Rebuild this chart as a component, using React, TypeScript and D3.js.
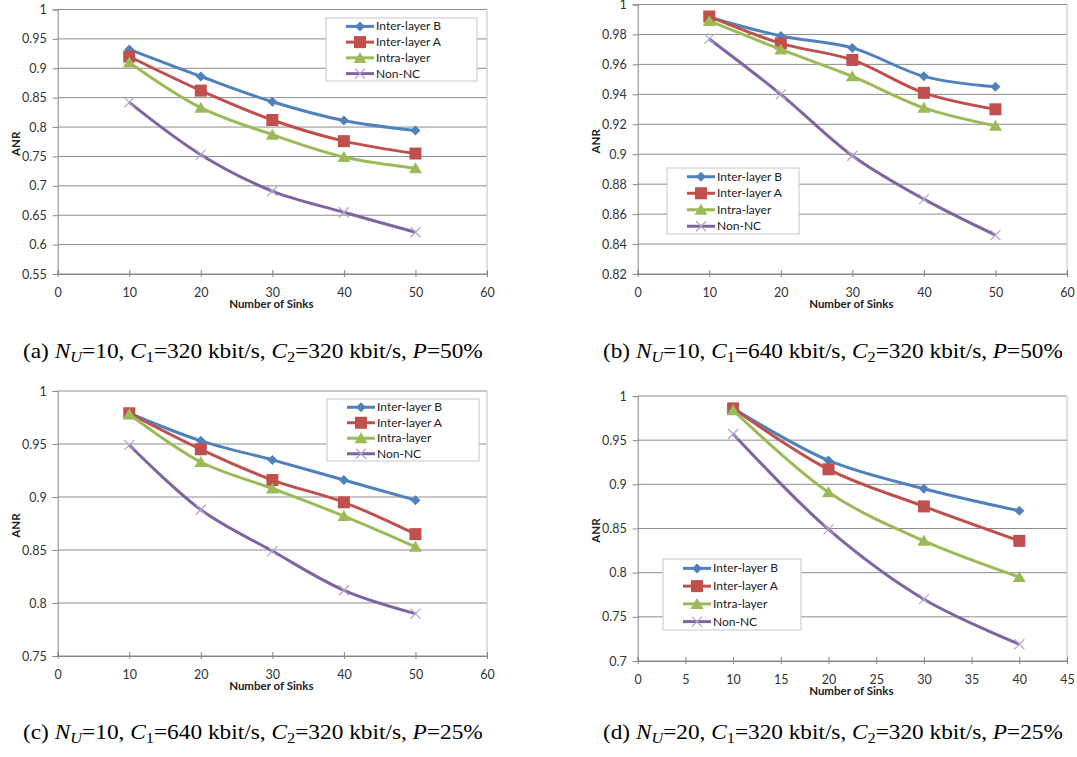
import React, { useEffect, useRef } from "react"
import * as d3 from "d3"

// series names and colours (Excel 2007 palette)
const seriesNames = ["Inter-layer B", "Inter-layer A", "Intra-layer", "Non-NC"]
const seriesColors = ["#4F81BD", "#C0504D", "#9BBB59", "#8064A2"]
const markerKinds = ["diamond", "square", "triangle", "cross"]

// x values
const sinks50 = [10, 20, 30, 40, 50]
const sinks40 = [10, 20, 30, 40]

// panel (a)
const aInterB = [0.932, 0.886, 0.843, 0.811, 0.794]
const aInterA = [0.920, 0.862, 0.812, 0.776, 0.755]
const aIntra = [0.910, 0.833, 0.787, 0.749, 0.730]
const aNonNC = [0.842, 0.753, 0.691, 0.655, 0.621]

// panel (b)
const bInterB = [0.9915, 0.979, 0.971, 0.952, 0.945]
const bInterA = [0.992, 0.974, 0.963, 0.941, 0.930]
const bIntra = [0.989, 0.970, 0.952, 0.931, 0.919]
const bNonNC = [0.977, 0.940, 0.899, 0.870, 0.846]

// panel (c)
const cInterB = [0.979, 0.953, 0.935, 0.916, 0.897]
const cInterA = [0.979, 0.945, 0.916, 0.895, 0.865]
const cIntra = [0.978, 0.933, 0.908, 0.882, 0.853]
const cNonNC = [0.949, 0.888, 0.849, 0.812, 0.790]

// panel (d)
const dInterB = [0.986, 0.927, 0.895, 0.870]
const dInterA = [0.986, 0.917, 0.875, 0.836]
const dIntra = [0.984, 0.891, 0.836, 0.795]
const dNonNC = [0.957, 0.849, 0.770, 0.719]

// tick labels
const xTicks60 = [0, 10, 20, 30, 40, 50, 60]
const xTicks45 = [0, 5, 10, 15, 20, 25, 30, 35, 40, 45]
const yTicksA = [0.55, 0.6, 0.65, 0.7, 0.75, 0.8, 0.85, 0.9, 0.95, 1]
const yTicksB = [0.82, 0.84, 0.86, 0.88, 0.9, 0.92, 0.94, 0.96, 0.98, 1]
const yTicksC = [0.75, 0.8, 0.85, 0.9, 0.95, 1]
const yTicksD = [0.7, 0.75, 0.8, 0.85, 0.9, 0.95, 1]

const captions = [
  { tag: "(a)", nu: "10", c1: "320", c2: "320", p: "50%" },
  { tag: "(b)", nu: "10", c1: "640", c2: "320", p: "50%" },
  { tag: "(c)", nu: "10", c1: "640", c2: "320", p: "25%" },
  { tag: "(d)", nu: "20", c1: "320", c2: "320", p: "25%" },
]

const panels = [
  { xs: sinks50, series: [aInterB, aInterA, aIntra, aNonNC], xTicks: xTicks60, yTicks: yTicksA,
    box: [57.7, 487, 9.5, 274], legend: [326, 18, 151, 63] },
  { xs: sinks50, series: [bInterB, bInterA, bIntra, bNonNC], xTicks: xTicks60, yTicks: yTicksB,
    box: [637.7, 1067, 4.5, 274], legend: [667, 168, 132, 66] },
  { xs: sinks50, series: [cInterB, cInterA, cIntra, cNonNC], xTicks: xTicks60, yTicks: yTicksC,
    box: [57.7, 487, 391, 656], legend: [327, 399, 152, 62] },
  { xs: sinks40, series: [dInterB, dInterA, dIntra, dNonNC], xTicks: xTicks45, yTicks: yTicksD,
    box: [637.7, 1067, 396, 661], legend: [663, 559, 138, 71] },
]

// caption left x, baseline y, target width
const captionPos = [[23, 358, 460], [603, 358, 460], [23, 739, 460], [603, 739, 460]]

const tickFont = "Lato, 'Open Sans', sans-serif"

function drawMarker(g, kind, x, y, color) {
  if (kind === "diamond") {
    g.append("path").attr("d", `M${x},${y - 5}L${x + 5},${y}L${x},${y + 5}L${x - 5},${y}Z`).attr("fill", color)
  } else if (kind === "square") {
    g.append("rect").attr("x", x - 6).attr("y", y - 6).attr("width", 12).attr("height", 12).attr("fill", color)
  } else if (kind === "triangle") {
    g.append("path").attr("d", `M${x},${y - 6}L${x + 6.5},${y + 5}L${x - 6.5},${y + 5}Z`).attr("fill", color)
  } else {
    g.append("path").attr("d", `M${x - 5},${y - 5}L${x + 5},${y + 5}M${x - 5},${y + 5}L${x + 5},${y - 5}`)
      .attr("stroke", "#B3A2C7").attr("stroke-width", 1.2).attr("fill", "none")
  }
}

function App() {
  const ref = useRef(null)

  useEffect(() => {
    const svg = d3.select(ref.current)
    svg.selectAll("*").remove()

    panels.forEach((p) => {
      const [x0, x1, y0, y1] = p.box
      const x = d3.scaleLinear().domain([p.xTicks[0], p.xTicks[p.xTicks.length - 1]]).range([x0, x1])
      const y = d3.scaleLinear().domain([p.yTicks[0], p.yTicks[p.yTicks.length - 1]]).range([y1, y0])
      const g = svg.append("g")

      // grid lines
      g.selectAll(".grid").data(p.yTicks).enter().append("line")
        .attr("x1", x0).attr("x2", x1).attr("y1", d => y(d)).attr("y2", d => y(d))
        .attr("stroke", "#8C8C8C").attr("stroke-width", 1)
      // right border
      g.append("line").attr("x1", x1).attr("x2", x1).attr("y1", y0).attr("y2", y1)
        .attr("stroke", "#BFBFBF").attr("stroke-width", 1)

      // axes
      const yAxis = g.append("g").attr("transform", `translate(${x0},0)`)
        .call(d3.axisLeft(y).tickValues(p.yTicks).tickSize(5).tickFormat(d3.format("")))
      const xAxis = g.append("g").attr("transform", `translate(0,${y1})`)
        .call(d3.axisBottom(x).tickValues(p.xTicks).tickSize(-4).tickPadding(14).tickFormat(d3.format("")))
      ;[yAxis, xAxis].forEach(a => {
        a.select(".domain").attr("stroke", "#868686")
        a.selectAll("line").attr("stroke", "#868686")
        a.selectAll("text").attr("font-family", tickFont).attr("font-size", 12.5).attr("fill", "#333")
      })
      yAxis.selectAll("text").attr("x", -11)
      xAxis.selectAll(".tick").append("line").attr("y1", 0).attr("y2", 3).attr("stroke", "#868686")

      // axis titles
      g.append("text").attr("x", (x0 + x1) / 2 - 1).attr("y", y1 + 34).attr("text-anchor", "middle")
        .attr("font-family", tickFont).attr("font-weight", "bold").attr("font-size", 11.5).attr("fill", "#222")
        .text("Number of Sinks")
      g.append("text").attr("transform", `translate(${x0 - 38},${(y0 + y1) / 2 + 2}) rotate(-90)`)
        .attr("text-anchor", "middle").attr("font-family", tickFont).attr("font-weight", "bold")
        .attr("font-size", 11.5).attr("fill", "#222").text("ANR")

      // lines
      const line = d3.line().x(d => x(d[0])).y(d => y(d[1])).curve(d3.curveCatmullRom.alpha(0.5))
      p.series.forEach((vals, i) => {
        const pts = vals.map((v, k) => [p.xs[k], v])
        g.append("path").attr("d", line(pts)).attr("fill", "none")
          .attr("stroke", seriesColors[i]).attr("stroke-width", 3).attr("stroke-linejoin", "round")
        pts.forEach(pt => drawMarker(g, markerKinds[i], x(pt[0]), y(pt[1]), seriesColors[i]))
      })

      // legend
      const [lx, ly, lw, lh] = p.legend
      g.append("rect").attr("x", lx).attr("y", ly).attr("width", lw).attr("height", lh)
        .attr("fill", "#fff").attr("stroke", "#C8C8C8").attr("stroke-width", 1)
      const step = lh / 4
      seriesNames.forEach((name, i) => {
        const cy = ly + step * (i + 0.5) + 0.5
        const sx = lx + 20
        g.append("line").attr("x1", sx).attr("x2", sx + 28).attr("y1", cy).attr("y2", cy)
          .attr("stroke", seriesColors[i]).attr("stroke-width", 3)
        drawMarker(g, markerKinds[i], sx + 14, cy, seriesColors[i])
        g.append("text").attr("x", sx + 30).attr("y", cy + 4).attr("font-family", tickFont)
          .attr("font-size", 12).attr("fill", "#222").text(name)
      })
    })

    // captions
    captions.forEach((c, i) => {
      const [cx, cy, cw] = captionPos[i]
      const wrap = svg.append("g")
      const t = wrap.append("text").attr("x", 0).attr("y", 0)
        .attr("font-family", "'Liberation Serif', 'Times New Roman', serif").attr("font-size", 20).attr("fill", "#000")
      t.append("tspan").text(c.tag + "\u00a0")
      t.append("tspan").attr("font-style", "italic").text("N")
      t.append("tspan").attr("font-style", "italic").attr("font-size", 14).attr("dy", 4).text("U")
      t.append("tspan").attr("dy", -4).text(`=${c.nu}, `)
      t.append("tspan").attr("font-style", "italic").text("C")
      t.append("tspan").attr("font-size", 14).attr("dy", 4).text("1")
      t.append("tspan").attr("dy", -4).text(`=${c.c1} kbit/s, `)
      t.append("tspan").attr("font-style", "italic").text("C")
      t.append("tspan").attr("font-size", 14).attr("dy", 4).text("2")
      t.append("tspan").attr("dy", -4).text(`=${c.c2} kbit/s, `)
      t.append("tspan").attr("font-style", "italic").text("P")
      t.append("tspan").text(`=${c.p}`)
      const w = (t.node() as SVGTextElement).getBBox().width || cw
      wrap.attr("transform", `translate(${cx},${cy}) scale(${cw / w},1)`)
    })
  }, [])

  return (
    <svg ref={ref} width={1077} height={757}
      style={{ position: "absolute", left: 0, top: 0, background: "#fff" }} />
  )
}

export default App
